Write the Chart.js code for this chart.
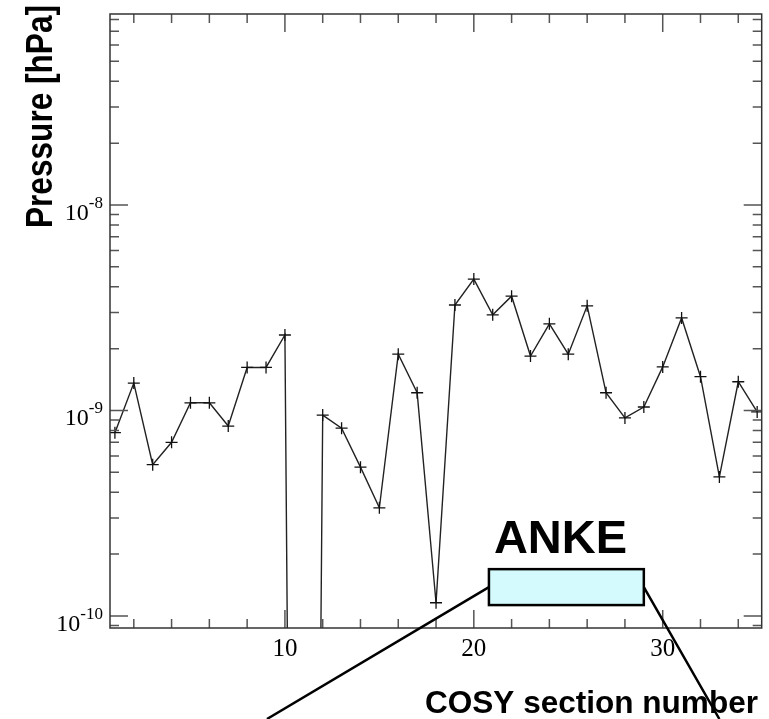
<!DOCTYPE html>
<html>
<head>
<meta charset="utf-8">
<script src="https://cdn.jsdelivr.net/npm/chart.js@4.4.0/dist/chart.umd.min.js"></script>
<style>
    body { margin: 0; background: #fff; }
    #wrap { width: 769px; height: 719px; }
</style>
</head>
<body>
<div id="wrap"><canvas id="pressureChart" width="769" height="719"></canvas></div>
<script>
// COSY sections and measured pressure (hPa); section 11 reads far below the axis
const sectionNumbers = [1, 2, 3, 4, 5, 6, 7, 8, 9, 10, 11, 12, 13, 14, 15, 16, 17, 18,
    19, 20, 21, 22, 23, 24, 25, 26, 27, 28, 29, 30, 31, 32, 33, 34, 35];
const pressures = [7.8e-10, 1.36e-9, 5.45e-10, 7.0e-10, 1.09e-9, 1.09e-9, 8.4e-10, 1.62e-9, 1.62e-9, 2.33e-9,
    1e-20, 9.5e-10, 8.2e-10, 5.3e-10, 3.36e-10, 1.88e-9, 1.22e-9, 1.16e-10,
    3.26e-9, 4.36e-9, 2.92e-9, 3.6e-9, 1.84e-9, 2.64e-9, 1.88e-9, 3.23e-9, 1.22e-9, 9.2e-10,
    1.04e-9, 1.63e-9, 2.82e-9, 1.46e-9, 4.75e-10, 1.38e-9, 9.84e-10];

const xMajorTicks = [10, 20, 30];
const xTickLabels = ['10', '20', '30'];
const xMinorTicks = [2, 4, 6, 8, 12, 14, 16, 18, 22, 24, 26, 28, 32, 34];
const yDecadeTicks = [1e-10, 1e-9, 1e-8];
const yDecadeExponents = ['-10', '-9', '-8'];
const yMinorTicks = [9e-11,
    2e-10, 3e-10, 4e-10, 5e-10, 6e-10, 7e-10, 8e-10, 9e-10,
    2e-9, 3e-9, 4e-9, 5e-9, 6e-9, 7e-9, 8e-9, 9e-9,
    2e-8, 3e-8, 4e-8, 5e-8, 6e-8, 7e-8, 8e-8];

// ANKE marker box (section range, pressure range) and where the callout lines end
const ankeSections = [20.8, 29.0];
const ankePressures = [1.13e-10, 1.69e-10];
const calloutEnds = [9.05, 33.0];

const yTitle = 'Pressure [hPa]';
const xTitle = 'COSY section number';
const boxLabel = 'ANKE';

const frameAndLabels = {
    id: 'frameAndLabels',
    afterDraw(chart) {
        const ctx = chart.ctx;
        const area = chart.chartArea;
        const xs = chart.scales.x;
        const ys = chart.scales.y;
        ctx.save();

        // ticks, pointing inwards on all four sides
        ctx.strokeStyle = '#555';
        ctx.lineWidth = 1.5;
        const xTick = (v, len) => {
            const px = xs.getPixelForValue(v);
            ctx.beginPath();
            ctx.moveTo(px, area.bottom);
            ctx.lineTo(px, area.bottom - len);
            ctx.moveTo(px, area.top);
            ctx.lineTo(px, area.top + len);
            ctx.stroke();
        };
        const yTick = (v, len) => {
            const py = ys.getPixelForValue(v);
            ctx.beginPath();
            ctx.moveTo(area.left, py);
            ctx.lineTo(area.left + len, py);
            ctx.moveTo(area.right, py);
            ctx.lineTo(area.right - len, py);
            ctx.stroke();
        };
        xMajorTicks.forEach(v => xTick(v, 18));
        xMinorTicks.forEach(v => xTick(v, 9));
        yDecadeTicks.forEach(v => yTick(v, 18));
        yMinorTicks.forEach(v => yTick(v, 9));

        // frame
        ctx.strokeStyle = '#333';
        ctx.lineWidth = 1.5;
        ctx.strokeRect(area.left, area.top, area.right - area.left, area.bottom - area.top);

        // tick labels
        ctx.fillStyle = '#000';
        ctx.font = '25px "Liberation Serif"';
        ctx.textAlign = 'center';
        ctx.textBaseline = 'alphabetic';
        xMajorTicks.forEach((v, i) => {
            ctx.fillText(xTickLabels[i], xs.getPixelForValue(v), area.bottom + 28);
        });
        ctx.textAlign = 'left';
        yDecadeTicks.forEach((v, i) => {
            const py = ys.getPixelForValue(v);
            ctx.font = '17px "Liberation Serif"';
            const supW = ctx.measureText(yDecadeExponents[i]).width;
            ctx.font = '24px "Liberation Serif"';
            const baseW = ctx.measureText('10').width;
            const right = area.left - 7;
            ctx.fillText('10', right - supW - baseW, py + 15);
            ctx.font = '17px "Liberation Serif"';
            ctx.fillText(yDecadeExponents[i], right - supW, py + 3);
        });

        // axis titles
        ctx.save();
        ctx.translate(52, 116.5);
        ctx.rotate(-Math.PI / 2);
        ctx.font = 'bold 37px "Liberation Sans"';
        const tw = ctx.measureText(yTitle).width;
        ctx.scale(223 / tw, 1);
        ctx.textAlign = 'center';
        ctx.fillText(yTitle, 0, 0);
        ctx.restore();

        ctx.font = 'bold 31px "Liberation Sans"';
        ctx.textAlign = 'left';
        const xw = ctx.measureText(xTitle).width;
        ctx.save();
        ctx.translate(425, 713);
        ctx.scale(333 / xw, 1);
        ctx.fillText(xTitle, 0, 0);
        ctx.restore();

        // ANKE box with callout lines
        const bx0 = xs.getPixelForValue(ankeSections[0]);
        const bx1 = xs.getPixelForValue(ankeSections[1]);
        const byTop = ys.getPixelForValue(ankePressures[1]);
        const byBot = ys.getPixelForValue(ankePressures[0]);
        const byMid = (byTop + byBot) / 2;
        ctx.strokeStyle = '#000';
        ctx.lineWidth = 2.5;
        ctx.beginPath();
        ctx.moveTo(bx0, byMid);
        ctx.lineTo(xs.getPixelForValue(calloutEnds[0]), chart.height);
        ctx.moveTo(bx1, byMid);
        ctx.lineTo(xs.getPixelForValue(calloutEnds[1]), chart.height);
        ctx.stroke();
        ctx.fillStyle = '#d5fafd';
        ctx.fillRect(bx0, byTop, bx1 - bx0, byBot - byTop);
        ctx.strokeRect(bx0, byTop, bx1 - bx0, byBot - byTop);

        ctx.fillStyle = '#000';
        ctx.font = 'bold 47px "Liberation Sans"';
        ctx.fillText(boxLabel, bx0 + 5, byTop - 16);

        ctx.restore();
    }
};

const ctx = document.getElementById('pressureChart').getContext('2d');
const pressureChart = new Chart(ctx, {
    type: 'line',
    data: {
        datasets: [{
            label: 'Pressure',
            data: sectionNumbers.map((s, i) => ({ x: s, y: pressures[i] })),
            borderColor: '#222',
            borderWidth: 1.4,
            pointStyle: 'cross',
            pointRadius: 6,
            pointBorderWidth: 1.3,
            pointBorderColor: '#111',
            tension: 0,
            fill: false,
        }],
    },
    options: {
        responsive: false,
        animation: false,
        layout: {
            padding: { left: 110, top: 14, right: 7, bottom: 91 },
        },
        plugins: {
            legend: { display: false },
            tooltip: { enabled: false },
        },
        scales: {
            x: {
                type: 'linear',
                min: 0.74,
                max: 35.24,
                display: false,
            },
            y: {
                type: 'logarithmic',
                min: 8.74e-11,
                max: 8.5e-8,
                display: false,
            },
        },
    },
    plugins: [frameAndLabels],
});
</script>
</body>
</html>
